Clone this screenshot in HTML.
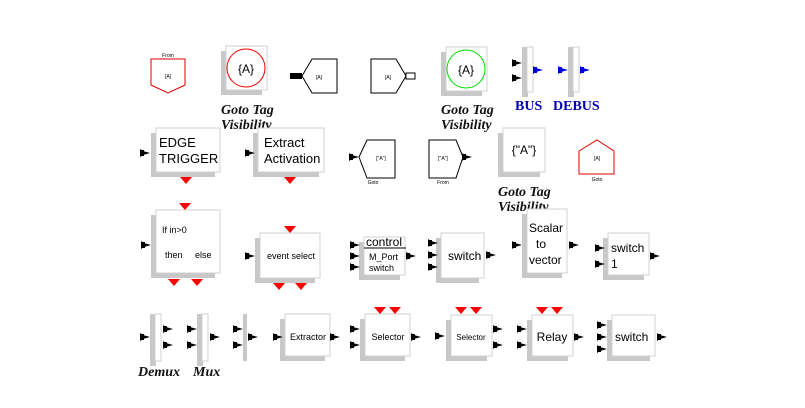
<!DOCTYPE html>
<html><head><meta charset="utf-8"><style>
html,body{margin:0;padding:0;background:#fff;width:805px;height:408px;overflow:hidden}
svg{display:block}
text{font-family:"Liberation Sans",sans-serif}
.lbl{font-family:"Liberation Serif",serif;font-style:italic;font-weight:bold;font-size:14px;fill:#111}
.bus{font-family:"Liberation Serif",serif;font-weight:bold;font-size:14px;fill:#0000b0}
</style></head><body>
<svg id="pal" width="805" height="408" viewBox="0 0 805 408" xmlns="http://www.w3.org/2000/svg"></svg>
<script>
const NS='http://www.w3.org/2000/svg';
const svg=document.getElementById('pal');
function mk(tag,attrs,name,inter,parent){
  const el=document.createElementNS(NS,tag);
  for(const k in attrs) el.setAttribute(k,attrs[k]);
  
  
  (parent||svg).appendChild(el);return el;
}
function txt(x,y,s,size,name,extra){
  const t=mk('text',Object.assign({x:x,y:y,'font-size':size,fill:'#000'},extra||{}),name,false);
  t.textContent=s;return t;
}
function block(x,y,w,h,name){
  const g=mk('g',{},name,true);
  mk('rect',{x:x-5,y:y+5,width:w,height:h,fill:'#c8c8c8'},name+'-shadow',false,g);
  mk('rect',{x:x,y:y,width:w,height:h,fill:'#fff',stroke:'#d0d0d0','stroke-width':1},name+'-body',false,g);
  return g;
}
function bar(x,y,h,name){
  const g=mk('g',{},name,true);
  mk('rect',{x:x,y:y,width:6,height:h,fill:'#c8c8c8'},name+'-shadow',false,g);
  mk('rect',{x:x+5,y:y,width:6,height:h-5,fill:'#fff',stroke:'#d0d0d0'},name+'-body',false,g);
}
function arrow(x,y,name,col){
  mk('polygon',{points:`${x},${y-4} ${x+3},${y-2} ${x+10},${y} ${x+3},${y+2} ${x},${y+4}`,fill:col||'#000'},name,false);
  mk('rect',{x:x,y:y-3,width:4,height:6,fill:col||'#000'},name+'-base',false);
}
function evt(x,y,name){
  mk('polygon',{points:`${x-6},${y} ${x+6},${y} ${x},${y+7}`,fill:'#f00'},name,false);
}
// Row 1
mk('polygon',{points:'151,59 185,59 185,85 168,93 151,85',fill:'#fff',stroke:'#d00'},'from-block',true);
txt(168,57,'From',5,'from-label',{'text-anchor':'middle'});
txt(168,78,'[A]',5,'from-tag',{'text-anchor':'middle'});
block(226,46,41,44,'goto-tag-visibility-red');
mk('circle',{cx:246,cy:68,r:19,fill:'none',stroke:'#e00'},'red-circle',false);
txt(246,73,'{A}',12,'red-circle-text',{'text-anchor':'middle'});
txt(221,114,'Goto Tag',14,'label-goto-tag-1',{'class':'lbl'});
txt(221,129,'Visibility',14,'label-visibility-1',{'class':'lbl'});
mk('rect',{x:290,y:73,width:12,height:6,fill:'#000'},'goto-left-port',false);
mk('polygon',{points:'302,76 312,59 337,59 337,93 312,93',fill:'#fff',stroke:'#000'},'goto-left-hex',true);
txt(319,79,'[A]',5,'goto-left-tag',{'text-anchor':'middle'});
mk('polygon',{points:'371,59 396,59 406,76 396,93 371,93',fill:'#fff',stroke:'#000'},'from-right-hex',true);
mk('rect',{x:406,y:73,width:9,height:6,fill:'#fff',stroke:'#000'},'from-right-port',false);
txt(388,79,'[A]',5,'from-right-tag',{'text-anchor':'middle'});
block(446,47,41,44,'goto-tag-visibility-green');
mk('circle',{cx:466,cy:69,r:19,fill:'none',stroke:'#0d0'},'green-circle',false);
txt(466,74,'{A}',12,'green-circle-text',{'text-anchor':'middle'});
txt(441,114,'Goto Tag',14,'label-goto-tag-2',{'class':'lbl'});
txt(441,129,'Visibility',14,'label-visibility-2',{'class':'lbl'});
bar(522,47,50,'bus-block');
arrow(512,63,'bus-in-1');arrow(512,78,'bus-in-2');arrow(533,70,'bus-out','#00d');
txt(515,110,'BUS',14,'bus-label',{'class':'bus'});
bar(568,47,50,'debus-block');
arrow(558,70,'debus-in','#00d');arrow(580,70,'debus-out','#00d');
txt(553,110,'DEBUS',14,'debus-label',{'class':'bus'});
// Row 2
block(156,128,64,44,'edge-trigger-block');
txt(159,147,'EDGE',13,'edge-text-1');txt(159,163,'TRIGGER',13,'edge-text-2');
arrow(140,153,'edge-in');evt(186,177,'edge-evt-out');
block(258,128,66,44,'extract-activation-block');
txt(264,147,'Extract',13,'extract-text-1');txt(264,163,'Activation',13,'extract-text-2');
arrow(245,153,'extract-in');evt(290,177,'extract-evt-out');
mk('polygon',{points:'359,157 367,140 395,140 395,178 367,178',fill:'#fff',stroke:'#000'},'goto-hex-2',true);
arrow(349,157,'goto2-in');
txt(381,160,'["A"]',5,'goto2-tag',{'text-anchor':'middle'});
txt(373,184,'Goto',5,'goto2-label',{'text-anchor':'middle'});
mk('polygon',{points:'429,140 456,140 463,157 456,178 429,178',fill:'#fff',stroke:'#000'},'from-hex-2',true);
arrow(462,157,'from2-out');
txt(443,160,'["A"]',5,'from2-tag',{'text-anchor':'middle'});
txt(443,184,'From',5,'from2-label',{'text-anchor':'middle'});
block(503,128,42,44,'goto-tag-visibility-string');
txt(524,154,'{"A"}',12,'string-tag-text',{'text-anchor':'middle'});
txt(498,196,'Goto Tag',14,'label-goto-tag-3',{'class':'lbl'});
txt(498,211,'Visibility',14,'label-visibility-3',{'class':'lbl'});
mk('polygon',{points:'579,151 597,140 614,151 614,174 579,174',fill:'#fff',stroke:'#d00'},'goto-red-block',true);
txt(597,160,'[A]',5,'goto-red-tag',{'text-anchor':'middle'});
txt(597,181,'Goto',5,'goto-red-label',{'text-anchor':'middle'});
// Row 3
block(156,210,64,63,'if-then-else-block');
txt(162,233,'If in>0',9,'if-text');txt(165,258,'then',9,'then-text');txt(195,258,'else',9,'else-text');
arrow(141,245,'if-in');evt(185,203,'if-evt-in');evt(174,279,'then-evt');evt(197,279,'else-evt');
block(260,233,60,45,'event-select-block');
txt(291,259,'event select',9,'event-select-text',{'text-anchor':'middle'});
arrow(245,256,'es-in');evt(290,226,'es-evt-in');evt(279,283,'es-evt-1');evt(301,283,'es-evt-2');
block(364,237,41,38,'mport-switch-block');
txt(366,246,'control',12,'control-text');
mk('line',{x1:364,y1:248,x2:406,y2:248,stroke:'#000'},'control-line',false);
txt(369,260,'M_Port',9,'mport-text');txt(369,271,'switch',9,'mport-switch-text');
arrow(350,245,'mp-in-1');arrow(350,256,'mp-in-2');arrow(350,267,'mp-in-3');arrow(406,256,'mp-out');
block(441,233,43,45,'switch-block-1');
txt(448,260,'switch',12,'switch1-text');
arrow(428,243,'sw1-in-1');arrow(428,255,'sw1-in-2');arrow(428,267,'sw1-in-3');arrow(486,255,'sw1-out');
block(527,209,40,64,'scalar-to-vector-block');
txt(529,232,'Scalar',12,'stv-text-1');txt(536,248,'to',12,'stv-text-2');txt(529,264,'vector',12,'stv-text-3');
arrow(512,245,'stv-in');arrow(569,245,'stv-out');
block(608,233,41,42,'switch-1-block');
txt(611,252,'switch',12,'sw1b-text-1');txt(611,268,'1',12,'sw1b-text-2');
arrow(595,248,'swb-in-1');arrow(595,264,'swb-in-2');arrow(650,256,'swb-out');
// Row 4
bar(150,314,52,'demux-block');
arrow(140,337,'demux-in');arrow(163,329,'demux-out-1');arrow(163,345,'demux-out-2');
txt(138,376,'Demux',14,'demux-label',{'class':'lbl'});
bar(197,314,52,'mux-block');
arrow(187,329,'mux-in-1');arrow(187,345,'mux-in-2');arrow(210,337,'mux-out');
txt(193,376,'Mux',14,'mux-label',{'class':'lbl'});
mk('rect',{x:243,y:314,width:4,height:47,fill:'#c8c8c8'},'sum-bar',true);
arrow(233,329,'bar3-in-1');arrow(233,345,'bar3-in-2');arrow(248,337,'bar3-out');
block(285,314,45,42,'extractor-block');
txt(308,340,'Extractor',9,'extractor-text',{'text-anchor':'middle'});
arrow(273,337,'ext-in');arrow(330,337,'ext-out');
block(365,314,45,42,'selector-block-1');
txt(388,340,'Selector',9,'selector1-text',{'text-anchor':'middle'});
evt(380,307,'sel1-evt-1');evt(395,307,'sel1-evt-2');
arrow(350,329,'sel1-in-1');arrow(350,345,'sel1-in-2');arrow(411,337,'sel1-out');
block(451,315,41,41,'selector-block-2');
txt(471,340,'Selector',8,'selector2-text',{'text-anchor':'middle'});
evt(461,307,'sel2-evt-1');evt(476,307,'sel2-evt-2');
arrow(435,336,'sel2-in');arrow(493,329,'sel2-out-1');arrow(493,345,'sel2-out-2');
block(532,315,41,41,'relay-block');
txt(552,341,'Relay',12,'relay-text',{'text-anchor':'middle'});
evt(542,307,'relay-evt-1');evt(557,307,'relay-evt-2');
arrow(517,329,'relay-in-1');arrow(517,345,'relay-in-2');arrow(574,337,'relay-out');
block(612,315,43,41,'switch-block-2');
txt(615,341,'switch',12,'switch2-text');
arrow(597,325,'sw2-in-1');arrow(597,337,'sw2-in-2');arrow(597,349,'sw2-in-3');arrow(657,337,'sw2-out');
</script>
</body></html>
